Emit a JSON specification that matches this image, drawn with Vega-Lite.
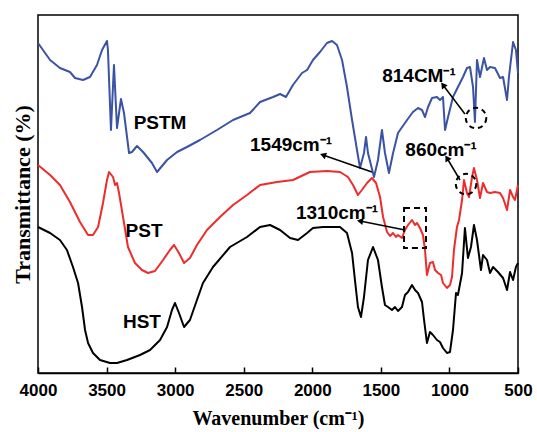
{
"$schema": "https://vega.github.io/schema/vega-lite/v6.json",
"width": 480, "height": 358,
"autosize": {"type": "none"},
"padding": {"left": 38, "top": 15, "right": 19, "bottom": 59},
"background": "white",
"config": {"view": {"stroke": "black", "strokeWidth": 1.5}},
"datasets": {
"spectra": [
{"s":"PSTM","w":4000,"t":330},{"s":"PSTM","w":3912,"t":313},{"s":"PSTM","w":3840,"t":305},{"s":"PSTM","w":3767,"t":301},{"s":"PSTM","w":3730,"t":295},{"s":"PSTM","w":3672,"t":293},{"s":"PSTM","w":3621,"t":296},{"s":"PSTM","w":3570,"t":308},{"s":"PSTM","w":3533,"t":323},{"s":"PSTM","w":3497,"t":332},{"s":"PSTM","w":3490,"t":323},{"s":"PSTM","w":3468,"t":243},{"s":"PSTM","w":3446,"t":308},{"s":"PSTM","w":3424,"t":245},{"s":"PSTM","w":3395,"t":274},{"s":"PSTM","w":3373,"t":260},{"s":"PSTM","w":3336,"t":220},{"s":"PSTM","w":3315,"t":221},{"s":"PSTM","w":3278,"t":227},{"s":"PSTM","w":3234,"t":221},{"s":"PSTM","w":3169,"t":210},{"s":"PSTM","w":3132,"t":201},{"s":"PSTM","w":3059,"t":213},{"s":"PSTM","w":2986,"t":221},{"s":"PSTM","w":2914,"t":226},{"s":"PSTM","w":2819,"t":233},{"s":"PSTM","w":2695,"t":243},{"s":"PSTM","w":2578,"t":253},{"s":"PSTM","w":2454,"t":260},{"s":"PSTM","w":2381,"t":271},{"s":"PSTM","w":2286,"t":276},{"s":"PSTM","w":2235,"t":279},{"s":"PSTM","w":2192,"t":276},{"s":"PSTM","w":2141,"t":288},{"s":"PSTM","w":2075,"t":300},{"s":"PSTM","w":2038,"t":303},{"s":"PSTM","w":1995,"t":313},{"s":"PSTM","w":1944,"t":321},{"s":"PSTM","w":1893,"t":330},{"s":"PSTM","w":1856,"t":332},{"s":"PSTM","w":1820,"t":328},{"s":"PSTM","w":1783,"t":313},{"s":"PSTM","w":1747,"t":286},{"s":"PSTM","w":1710,"t":253},{"s":"PSTM","w":1674,"t":223},{"s":"PSTM","w":1652,"t":205},{"s":"PSTM","w":1623,"t":220},{"s":"PSTM","w":1608,"t":236},{"s":"PSTM","w":1594,"t":220},{"s":"PSTM","w":1550,"t":196},{"s":"PSTM","w":1521,"t":213},{"s":"PSTM","w":1492,"t":243},{"s":"PSTM","w":1470,"t":220},{"s":"PSTM","w":1441,"t":200},{"s":"PSTM","w":1411,"t":220},{"s":"PSTM","w":1375,"t":240},{"s":"PSTM","w":1360,"t":243},{"s":"PSTM","w":1309,"t":253},{"s":"PSTM","w":1266,"t":261},{"s":"PSTM","w":1229,"t":265},{"s":"PSTM","w":1200,"t":263},{"s":"PSTM","w":1178,"t":256},{"s":"PSTM","w":1156,"t":266},{"s":"PSTM","w":1127,"t":275},{"s":"PSTM","w":1091,"t":276},{"s":"PSTM","w":1069,"t":273},{"s":"PSTM","w":1047,"t":276},{"s":"PSTM","w":1032,"t":243},{"s":"PSTM","w":1010,"t":256},{"s":"PSTM","w":974,"t":276},{"s":"PSTM","w":938,"t":286},{"s":"PSTM","w":901,"t":296},{"s":"PSTM","w":872,"t":305},{"s":"PSTM","w":850,"t":306},{"s":"PSTM","w":828,"t":286},{"s":"PSTM","w":814,"t":251},{"s":"PSTM","w":799,"t":313},{"s":"PSTM","w":777,"t":296},{"s":"PSTM","w":748,"t":315},{"s":"PSTM","w":726,"t":303},{"s":"PSTM","w":704,"t":306},{"s":"PSTM","w":668,"t":305},{"s":"PSTM","w":631,"t":295},{"s":"PSTM","w":609,"t":296},{"s":"PSTM","w":580,"t":273},{"s":"PSTM","w":566,"t":296},{"s":"PSTM","w":536,"t":331},{"s":"PSTM","w":515,"t":323},{"s":"PSTM","w":500,"t":300},
{"s":"PST","w":4000,"t":208},{"s":"PST","w":3912,"t":198},{"s":"PST","w":3840,"t":188},{"s":"PST","w":3767,"t":171},{"s":"PST","w":3694,"t":151},{"s":"PST","w":3635,"t":138},{"s":"PST","w":3599,"t":138},{"s":"PST","w":3562,"t":146},{"s":"PST","w":3526,"t":170},{"s":"PST","w":3497,"t":193},{"s":"PST","w":3482,"t":201},{"s":"PST","w":3453,"t":196},{"s":"PST","w":3438,"t":188},{"s":"PST","w":3424,"t":190},{"s":"PST","w":3409,"t":180},{"s":"PST","w":3380,"t":156},{"s":"PST","w":3344,"t":126},{"s":"PST","w":3293,"t":110},{"s":"PST","w":3242,"t":103},{"s":"PST","w":3198,"t":100},{"s":"PST","w":3147,"t":102},{"s":"PST","w":3088,"t":113},{"s":"PST","w":3038,"t":123},{"s":"PST","w":3008,"t":128},{"s":"PST","w":2972,"t":120},{"s":"PST","w":2935,"t":110},{"s":"PST","w":2892,"t":115},{"s":"PST","w":2841,"t":128},{"s":"PST","w":2768,"t":143},{"s":"PST","w":2673,"t":156},{"s":"PST","w":2578,"t":168},{"s":"PST","w":2476,"t":178},{"s":"PST","w":2381,"t":188},{"s":"PST","w":2257,"t":191},{"s":"PST","w":2141,"t":193},{"s":"PST","w":2017,"t":201},{"s":"PST","w":1893,"t":202},{"s":"PST","w":1798,"t":201},{"s":"PST","w":1740,"t":196},{"s":"PST","w":1703,"t":188},{"s":"PST","w":1667,"t":178},{"s":"PST","w":1638,"t":183},{"s":"PST","w":1601,"t":190},{"s":"PST","w":1565,"t":195},{"s":"PST","w":1535,"t":190},{"s":"PST","w":1506,"t":176},{"s":"PST","w":1484,"t":156},{"s":"PST","w":1455,"t":141},{"s":"PST","w":1433,"t":137},{"s":"PST","w":1411,"t":140},{"s":"PST","w":1390,"t":136},{"s":"PST","w":1375,"t":138},{"s":"PST","w":1346,"t":135},{"s":"PST","w":1324,"t":143},{"s":"PST","w":1302,"t":148},{"s":"PST","w":1273,"t":153},{"s":"PST","w":1251,"t":148},{"s":"PST","w":1236,"t":150},{"s":"PST","w":1215,"t":145},{"s":"PST","w":1193,"t":138},{"s":"PST","w":1178,"t":123},{"s":"PST","w":1164,"t":98},{"s":"PST","w":1142,"t":110},{"s":"PST","w":1120,"t":111},{"s":"PST","w":1105,"t":103},{"s":"PST","w":1083,"t":100},{"s":"PST","w":1061,"t":98},{"s":"PST","w":1047,"t":90},{"s":"PST","w":1018,"t":85},{"s":"PST","w":996,"t":88},{"s":"PST","w":981,"t":96},{"s":"PST","w":967,"t":123},{"s":"PST","w":945,"t":146},{"s":"PST","w":930,"t":153},{"s":"PST","w":908,"t":173},{"s":"PST","w":894,"t":193},{"s":"PST","w":872,"t":180},{"s":"PST","w":857,"t":176},{"s":"PST","w":835,"t":196},{"s":"PST","w":821,"t":205},{"s":"PST","w":799,"t":193},{"s":"PST","w":777,"t":175},{"s":"PST","w":755,"t":190},{"s":"PST","w":726,"t":181},{"s":"PST","w":704,"t":180},{"s":"PST","w":668,"t":181},{"s":"PST","w":631,"t":180},{"s":"PST","w":609,"t":175},{"s":"PST","w":580,"t":163},{"s":"PST","w":558,"t":183},{"s":"PST","w":536,"t":176},{"s":"PST","w":522,"t":173},{"s":"PST","w":500,"t":188},
{"s":"HST","w":4000,"t":146},{"s":"HST","w":3912,"t":140},{"s":"HST","w":3840,"t":133},{"s":"HST","w":3789,"t":123},{"s":"HST","w":3745,"t":106},{"s":"HST","w":3708,"t":90},{"s":"HST","w":3679,"t":66},{"s":"HST","w":3657,"t":43},{"s":"HST","w":3635,"t":30},{"s":"HST","w":3599,"t":20},{"s":"HST","w":3548,"t":13},{"s":"HST","w":3475,"t":10},{"s":"HST","w":3424,"t":10},{"s":"HST","w":3351,"t":13},{"s":"HST","w":3256,"t":18},{"s":"HST","w":3183,"t":23},{"s":"HST","w":3110,"t":33},{"s":"HST","w":3059,"t":46},{"s":"HST","w":3023,"t":63},{"s":"HST","w":3001,"t":70},{"s":"HST","w":2972,"t":60},{"s":"HST","w":2935,"t":46},{"s":"HST","w":2892,"t":53},{"s":"HST","w":2841,"t":73},{"s":"HST","w":2797,"t":90},{"s":"HST","w":2724,"t":106},{"s":"HST","w":2600,"t":126},{"s":"HST","w":2476,"t":136},{"s":"HST","w":2381,"t":146},{"s":"HST","w":2308,"t":148},{"s":"HST","w":2235,"t":143},{"s":"HST","w":2162,"t":135},{"s":"HST","w":2104,"t":133},{"s":"HST","w":2038,"t":140},{"s":"HST","w":1995,"t":145},{"s":"HST","w":1922,"t":146},{"s":"HST","w":1798,"t":146},{"s":"HST","w":1747,"t":140},{"s":"HST","w":1710,"t":120},{"s":"HST","w":1689,"t":93},{"s":"HST","w":1667,"t":66},{"s":"HST","w":1645,"t":56},{"s":"HST","w":1623,"t":76},{"s":"HST","w":1594,"t":113},{"s":"HST","w":1557,"t":126},{"s":"HST","w":1521,"t":113},{"s":"HST","w":1492,"t":86},{"s":"HST","w":1470,"t":68},{"s":"HST","w":1448,"t":66},{"s":"HST","w":1419,"t":63},{"s":"HST","w":1397,"t":66},{"s":"HST","w":1375,"t":62},{"s":"HST","w":1346,"t":66},{"s":"HST","w":1324,"t":78},{"s":"HST","w":1302,"t":81},{"s":"HST","w":1273,"t":88},{"s":"HST","w":1251,"t":83},{"s":"HST","w":1229,"t":80},{"s":"HST","w":1200,"t":71},{"s":"HST","w":1185,"t":53},{"s":"HST","w":1164,"t":30},{"s":"HST","w":1142,"t":41},{"s":"HST","w":1120,"t":38},{"s":"HST","w":1091,"t":33},{"s":"HST","w":1069,"t":31},{"s":"HST","w":1047,"t":25},{"s":"HST","w":1018,"t":20},{"s":"HST","w":996,"t":21},{"s":"HST","w":974,"t":43},{"s":"HST","w":952,"t":80},{"s":"HST","w":938,"t":78},{"s":"HST","w":908,"t":100},{"s":"HST","w":887,"t":145},{"s":"HST","w":865,"t":115},{"s":"HST","w":843,"t":126},{"s":"HST","w":821,"t":148},{"s":"HST","w":799,"t":133},{"s":"HST","w":770,"t":103},{"s":"HST","w":755,"t":118},{"s":"HST","w":726,"t":113},{"s":"HST","w":704,"t":100},{"s":"HST","w":682,"t":106},{"s":"HST","w":646,"t":101},{"s":"HST","w":609,"t":95},{"s":"HST","w":580,"t":83},{"s":"HST","w":558,"t":101},{"s":"HST","w":536,"t":93},{"s":"HST","w":515,"t":106},{"s":"HST","w":500,"t":110}
],
"labels": [
{"label":"PSTM","w":3110,"t":250},
{"label":"PST","w":3227,"t":142},
{"label":"HST","w":3242,"t":51},
{"label":"1549cm⁻¹","w":2155,"t":228},
{"label":"814CM⁻¹","w":1222,"t":297},
{"label":"860cm⁻¹","w":1061,"t":223},
{"label":"1310cm⁻¹","w":1820,"t":160}
],
"arrows": [
{"id":"1549","w1":1565,"t1":201,"w2":1922,"t2":218},
{"id":"814","w1":887,"t1":259,"w2":1047,"t2":288},
{"id":"860","w1":923,"t1":193,"w2":1018,"t2":215},
{"id":"1310","w1":1324,"t1":143,"w2":1652,"t2":152}
],
"boxes": [{"w1":1331,"w2":1171,"t1":165,"t2":125}],
"circles": [{"id":"814","w":806,"t":255},{"id":"860","w":879,"t":189}]
},
"layer": [
{
"data": {"name": "spectra"},
"mark": {"type": "line", "strokeWidth": 2, "strokeJoin": "round"},
"encoding": {
"x": {"field": "w", "type": "quantitative", "scale": {"domain": [500, 4000], "reverse": true, "nice": false, "zero": false},
"axis": {"values": [500,750,1000,1250,1500,1750,2000,2250,2500,2750,3000,3250,3500,3750,4000], "format": "d",
"labelExpr": "datum.value % 500 == 0 ? datum.label : ''", "tickSize": -6, "tickColor": "black", "tickWidth": 1.5,
"domainColor": "black", "domainWidth": 1.5, "grid": false, "labelFont": "Liberation Sans", "labelFontWeight": "bold", "labelFontSize": 17,
"labelColor": "black", "labelPadding": 15, "labelFlush": false, "labelOverlap": false,
"title": "Wavenumber (cm⁻¹)", "titleFont": "Liberation Serif", "titleFontWeight": "bold", "titleFontSize": 20, "titleColor": "black", "titlePadding": 10}},
"y": {"field": "t", "type": "quantitative", "scale": {"domain": [0, 358], "nice": false, "zero": false},
"axis": {"domain": false, "ticks": false, "labels": false, "grid": false, "title": "Transmittance (%)",
"titleFont": "Liberation Serif", "titleFontWeight": "bold", "titleFontSize": 22, "titleColor": "black", "titlePadding": 4}},
"color": {"field": "s", "type": "nominal", "scale": {"domain": ["PSTM","PST","HST"], "range": ["#3A53A4","#EE2C2C","#000000"]}, "legend": null},
"detail": {"field": "s"}
}
},
{
"data": {"name": "labels"},
"mark": {"type": "text", "font": "Liberation Sans", "fontWeight": "bold", "fontSize": 19, "color": "black", "align": "center", "baseline": "middle"},
"encoding": {"x": {"field": "w", "type": "quantitative"}, "y": {"field": "t", "type": "quantitative"}, "text": {"field": "label"}}
},
{
"data": {"name": "arrows"},
"mark": {"type": "rule", "color": "black", "strokeWidth": 1.5},
"encoding": {"x": {"field": "w1", "type": "quantitative"}, "y": {"field": "t1", "type": "quantitative"}, "x2": {"field": "w2"}, "y2": {"field": "t2"}}
},
{
"data": {"name": "arrows"}, "transform": [{"filter": "datum.id == '1549'"}],
"mark": {"type": "point", "shape": "triangle-up", "filled": true, "color": "black", "size": 50, "angle": 289, "opacity": 1},
"encoding": {"x": {"field": "w2", "type": "quantitative"}, "y": {"field": "t2", "type": "quantitative"}}
},
{
"data": {"name": "arrows"}, "transform": [{"filter": "datum.id == '814'"}],
"mark": {"type": "point", "shape": "triangle-up", "filled": true, "color": "black", "size": 50, "angle": 323, "opacity": 1},
"encoding": {"x": {"field": "w2", "type": "quantitative"}, "y": {"field": "t2", "type": "quantitative"}}
},
{
"data": {"name": "arrows"}, "transform": [{"filter": "datum.id == '860'"}],
"mark": {"type": "point", "shape": "triangle-up", "filled": true, "color": "black", "size": 50, "angle": 329, "opacity": 1},
"encoding": {"x": {"field": "w2", "type": "quantitative"}, "y": {"field": "t2", "type": "quantitative"}}
},
{
"data": {"name": "arrows"}, "transform": [{"filter": "datum.id == '1310'"}],
"mark": {"type": "point", "shape": "triangle-up", "filled": true, "color": "black", "size": 50, "angle": 281, "opacity": 1},
"encoding": {"x": {"field": "w2", "type": "quantitative"}, "y": {"field": "t2", "type": "quantitative"}}
},
{
"data": {"name": "boxes"},
"mark": {"type": "rect", "fill": null, "fillOpacity": 0, "stroke": "black", "strokeWidth": 2, "strokeDash": [6, 4]},
"encoding": {"x": {"field": "w1", "type": "quantitative"}, "x2": {"field": "w2"}, "y": {"field": "t1", "type": "quantitative"}, "y2": {"field": "t2"}}
},
{
"data": {"name": "circles"},
"mark": {"type": "point", "shape": "circle", "filled": false, "stroke": "black", "strokeWidth": 2, "strokeDash": [5, 4], "size": 420, "opacity": 1},
"encoding": {"x": {"field": "w", "type": "quantitative"}, "y": {"field": "t", "type": "quantitative"}}
}
]
}
